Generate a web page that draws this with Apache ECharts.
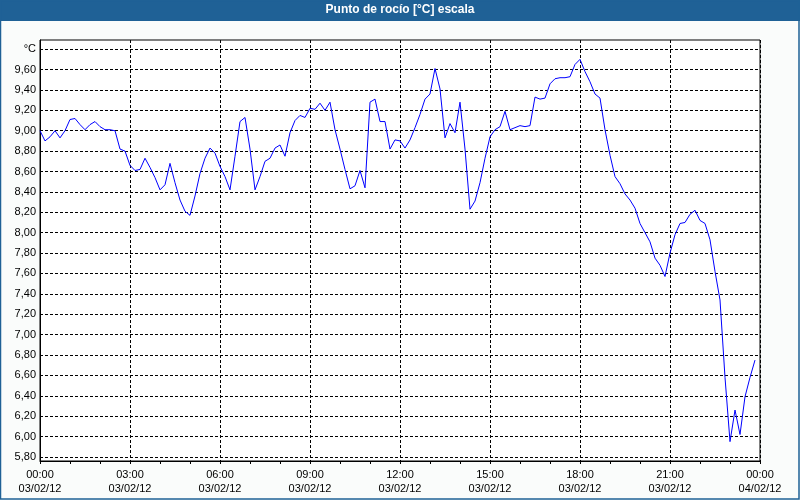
<!DOCTYPE html>
<html>
<head>
<meta charset="utf-8">
<script src="https://cdn.jsdelivr.net/npm/echarts@6/dist/echarts.min.js"></script>
<style>
html,body{margin:0;padding:0;background:#fafcfb;}
#chart{width:800px;height:500px;}
</style>
</head>
<body>
<div id="chart"></div>
<script>
// Dew point readings, one every 10 minutes from 03/02/12 00:00 to 23:50
const stepMinutes = 10;
const dewPoint = [
  9.00, 8.90, 8.94, 9.00, 8.93, 9.00, 9.11, 9.12, 9.06, 9.01, 9.06, 9.09,
  9.04, 9.01, 9.01, 9.00, 8.82, 8.80, 8.66, 8.61, 8.62, 8.73, 8.64, 8.54,
  8.42, 8.47, 8.68, 8.49, 8.32, 8.21, 8.17, 8.36, 8.58, 8.73, 8.83, 8.78,
  8.65, 8.55, 8.42, 8.75, 9.09, 9.13, 8.82, 8.42, 8.55, 8.70, 8.73, 8.83,
  8.86, 8.75, 8.98, 9.10, 9.15, 9.13, 9.22, 9.21, 9.27, 9.20, 9.28, 9.01,
  8.82, 8.62, 8.43, 8.46, 8.61, 8.44, 9.28, 9.31, 9.09, 9.09, 8.82, 8.91,
  8.90, 8.83, 8.91, 9.03, 9.16, 9.31, 9.36, 9.61, 9.41, 8.93, 9.07, 8.98,
  9.28, 8.82, 8.23, 8.31, 8.49, 8.73, 8.94, 9.01, 9.04, 9.19, 9.01, 9.03,
  9.05, 9.04, 9.05, 9.33, 9.31, 9.32, 9.46, 9.51, 9.52, 9.52, 9.53, 9.65,
  9.70, 9.58, 9.48, 9.36, 9.32, 9.01, 8.76, 8.55, 8.48, 8.38, 8.32, 8.24,
  8.09, 8.00, 7.91, 7.75, 7.68, 7.57, 7.80, 7.98, 8.09, 8.10, 8.18, 8.22,
  8.12, 8.09, 7.93, 7.62, 7.34, 6.58, 5.95, 6.26, 6.02, 6.39, 6.58, 6.75
];
const timeLabels = ['00:00','03:00','06:00','09:00','12:00','15:00','18:00','21:00','00:00'];
const dateLabels = ['03/02/12','03/02/12','03/02/12','03/02/12','03/02/12','03/02/12','03/02/12','03/02/12','04/02/12'];
const yTicks = [5.8, 6.0, 6.2, 6.4, 6.6, 6.8, 7.0, 7.2, 7.4, 7.6, 7.8, 8.0, 8.2, 8.4, 8.6, 8.8, 9.0, 9.2, 9.4, 9.6, 9.8];
const unitLabel = '°C';
const titleText = 'Punto de rocío [°C] escala';

const seriesData = dewPoint.map((v, i) => [i * stepMinutes / 60, v]);

const chart = echarts.init(document.getElementById('chart'), null, {renderer: 'canvas'});
const font = 'Liberation Sans';
const barColor = '#1f6196';
chart.setOption({
  animation: false,
  backgroundColor: '#fafcfb',
  textStyle: {fontFamily: font},
  graphic: [
    {type: 'rect', left: 0, top: 0, shape: {width: 800, height: 21}, style: {fill: barColor}, z: 10},
    {type: 'text', left: 'center', top: 4, style: {text: titleText, fill: '#ffffff', font: 'bold 12px "Liberation Sans"'}, z: 11},
    {type: 'rect', shape: {x: 0.5, y: 0.5, width: 798.5, height: 498.5}, style: {fill: 'none', stroke: barColor, lineWidth: 1.5}, z: 10}
  ],
  grid: {left: 40, right: 40, top: 40, bottom: 39, show: true, borderColor: '#000', borderWidth: 1, backgroundColor: '#ffffff'},
  xAxis: {
    type: 'value', min: 0, max: 24, interval: 3,
    axisLine: {show: true, lineStyle: {color: '#000', width: 1}},
    axisTick: {show: true, length: 3, lineStyle: {color: '#000'}},
    minorTick: {show: true, splitNumber: 3, length: 3, lineStyle: {color: '#000'}},
    splitLine: {show: true, lineStyle: {color: '#000', type: [3, 2], width: 1}},
    axisLabel: {
      color: '#000', fontSize: 11, lineHeight: 14, margin: 7, fontFamily: font,
      formatter: v => { const k = Math.round(v / 3); return timeLabels[k] + '\n' + dateLabels[k]; }
    }
  },
  yAxis: {
    type: 'value', min: 5.76, max: 9.89,
    axisLine: {show: true, lineStyle: {color: '#000', width: 1}},
    axisTick: {show: false, customValues: yTicks},
    splitLine: {show: true, lineStyle: {color: '#000', type: [3, 2], width: 1}},
    axisLabel: {
      customValues: yTicks, color: '#000', fontSize: 11, margin: 4, fontFamily: font,
      formatter: v => Math.abs(v - 9.8) < 1e-6 ? unitLabel : v.toFixed(2).replace('.', ',')
    }
  },
  series: [{
    type: 'line', data: seriesData, showSymbol: false, symbol: 'none',
    lineStyle: {color: '#0000ff', width: 1}, itemStyle: {color: '#0000ff'}
  }]
});
</script>
</body>
</html>
